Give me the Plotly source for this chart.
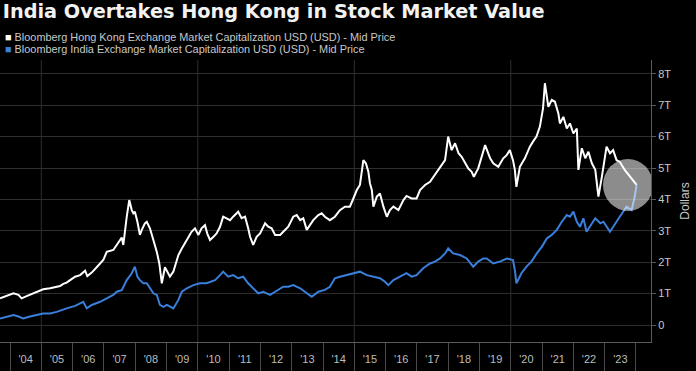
import plotly.graph_objects as go

# ---- data: x = decimal year, y = trillions of USD ----
hk_x = [2003.68,2003.89,2004.11,2004.27,2004.37,2004.53,2004.74,2004.96,2005.06,2005.28,2005.44,2005.60,2005.70,2005.81,
 2005.92,2006.08,2006.24,2006.34,2006.40,2006.47,2006.61,2006.77,2006.88,2006.98,2007.09,2007.19,2007.30,2007.41,
 2007.51,2007.57,2007.62,2007.67,2007.73,2007.81,2007.89,2007.94,2007.99,2008.07,2008.15,2008.21,2008.31,2008.37,
 2008.47,2008.58,2008.69,2008.77,2008.85,2008.95,2009.06,2009.11,2009.22,2009.27,2009.38,2009.49,2009.65,2009.80,
 2009.91,2010.02,2010.12,2010.23,2010.30,2010.39,2010.50,2010.60,2010.71,2010.81,2010.92,2011.03,2011.13,2011.29,
 2011.40,2011.51,2011.61,2011.67,2011.77,2011.88,2011.99,2012.15,2012.25,2012.36,2012.47,2012.63,2012.73,2012.89,
 2013.05,2013.16,2013.27,2013.37,2013.48,2013.58,2013.69,2013.85,2013.96,2014.06,2014.22,2014.38,2014.54,2014.70,
 2014.86,2014.97,2015.08,2015.18,2015.29,2015.37,2015.45,2015.50,2015.56,2015.61,2015.72,2015.82,2015.93,2016.04,
 2016.14,2016.25,2016.41,2016.57,2016.67,2016.83,2016.99,2017.10,2017.26,2017.42,2017.58,2017.74,2017.90,2018.00,
 2018.11,2018.22,2018.33,2018.43,2018.54,2018.64,2018.75,2018.82,2018.96,2019.07,2019.18,2019.34,2019.44,2019.60,
 2019.76,2019.87,2019.97,2020.07,2020.13,2020.18,2020.29,2020.45,2020.61,2020.71,2020.82,2020.93,2021.03,2021.09,
 2021.20,2021.31,2021.41,2021.52,2021.57,2021.68,2021.79,2021.89,2022.00,2022.11,2022.16,2022.27,2022.38,2022.48,
 2022.59,2022.70,2022.80,2022.91,2023.01,2023.06,2023.17,2023.27,2023.38,2023.48,2023.64,2023.81,2023.91,2024.02]
hk_y = [0.85,0.92,1.01,0.96,0.85,0.92,1.01,1.09,1.14,1.17,1.20,1.24,1.31,1.35,
 1.43,1.54,1.59,1.67,1.73,1.56,1.67,1.84,1.96,2.07,2.33,2.37,2.39,2.55,
 2.71,2.79,2.55,3.03,3.45,3.98,3.66,3.56,3.61,3.29,2.87,3.03,3.24,3.29,
 3.08,2.71,2.33,1.96,1.33,1.84,1.65,1.54,1.70,1.86,2.23,2.44,2.71,2.97,
 3.08,2.87,3.08,3.18,2.92,2.71,2.81,2.92,3.13,3.45,3.40,3.34,3.45,3.61,
 3.40,3.45,3.08,2.81,2.55,2.81,2.92,3.24,3.13,3.08,2.87,2.87,2.97,3.13,
 3.45,3.50,3.34,3.40,3.03,3.18,3.34,3.50,3.56,3.45,3.34,3.45,3.66,3.77,
 3.77,4.03,4.30,4.46,5.25,5.15,4.88,4.51,4.30,3.77,4.09,4.19,3.77,3.45,
 3.66,3.77,3.66,3.98,4.11,4.03,4.03,4.30,4.46,4.56,4.78,4.99,5.25,6.00,
 5.57,5.79,5.47,5.36,5.15,4.99,4.88,4.72,4.99,5.36,5.73,5.31,5.15,5.04,
 5.31,5.41,5.57,5.25,4.94,4.40,5.04,5.31,5.68,5.84,6.00,6.32,6.90,7.70,
 6.95,7.17,7.11,6.74,6.42,6.63,6.26,6.42,6.10,6.26,4.94,5.63,5.31,5.52,
 5.15,4.94,4.09,4.72,5.36,5.68,5.47,5.57,5.25,5.20,4.94,4.72,4.62,4.46]

in_x = [2003.68,2003.89,2004.11,2004.27,2004.42,2004.64,2004.85,2005.06,2005.28,2005.49,2005.81,2006.08,2006.34,2006.45,
 2006.61,2006.88,2007.09,2007.30,2007.41,2007.57,2007.73,2007.89,2007.99,2008.07,2008.15,2008.26,2008.37,2008.47,
 2008.58,2008.69,2008.79,2008.90,2009.01,2009.22,2009.38,2009.49,2009.65,2009.86,2010.07,2010.28,2010.39,2010.55,
 2010.71,2010.81,2010.97,2011.13,2011.29,2011.45,2011.61,2011.77,2011.93,2012.09,2012.31,2012.47,2012.73,2012.89,
 2013.05,2013.27,2013.48,2013.64,2013.85,2014.06,2014.22,2014.38,2014.54,2014.76,2014.97,2015.18,2015.40,2015.61,
 2015.82,2015.98,2016.09,2016.25,2016.46,2016.67,2016.83,2016.99,2017.20,2017.42,2017.58,2017.74,2017.90,2018.00,
 2018.16,2018.38,2018.59,2018.80,2018.96,2019.12,2019.23,2019.44,2019.65,2019.87,2020.07,2020.13,2020.18,2020.34,
 2020.50,2020.66,2020.83,2020.99,2021.15,2021.31,2021.47,2021.63,2021.79,2021.89,2022.00,2022.11,2022.21,2022.32,
 2022.42,2022.59,2022.70,2022.86,2022.96,2023.17,2023.33,2023.48,2023.70,2023.86,2023.96,2024.02]
in_y = [0.21,0.27,0.32,0.27,0.21,0.27,0.32,0.37,0.37,0.42,0.53,0.61,0.74,0.53,
 0.64,0.74,0.85,0.96,1.06,1.11,1.43,1.65,1.86,1.54,1.43,1.33,1.33,1.17,
 1.01,0.96,0.64,0.58,0.64,0.53,0.80,1.06,1.17,1.27,1.33,1.33,1.38,1.43,
 1.59,1.70,1.54,1.59,1.49,1.54,1.33,1.17,1.01,1.06,0.96,1.06,1.22,1.22,
 1.27,1.17,1.01,0.90,1.06,1.12,1.22,1.49,1.54,1.59,1.65,1.70,1.59,1.54,
 1.49,1.38,1.27,1.43,1.54,1.65,1.54,1.59,1.81,1.96,2.02,2.12,2.28,2.44,
 2.28,2.23,2.12,1.86,2.02,2.12,2.12,1.96,2.02,2.12,2.07,1.75,1.33,1.65,
 1.86,2.02,2.28,2.49,2.76,2.87,3.03,3.29,3.50,3.45,3.61,3.29,3.13,3.40,
 2.97,3.24,3.40,3.24,3.29,2.97,3.24,3.45,3.77,3.66,4.09,4.46]

y_tickvals = [0, 1, 2, 3, 4, 5, 6, 7, 8]
y_ticktext = ["0", "1T", "2T", "3T", "4T", "5T", "6T", "7T", "8T"]
years = list(range(2004, 2024))
x_tickvals = [y + 0.5 for y in years]
x_ticktext = [f"'{str(y)[2:]}" for y in years]
grid_years = [2005, 2010, 2015, 2020]

HK_COLOR = "#ffffff"
IN_COLOR = "#3a7fdc"

fig = go.Figure()
fig.add_trace(go.Scatter(x=hk_x, y=hk_y, mode="lines",
                         line=dict(color=HK_COLOR, width=2), showlegend=False))
fig.add_trace(go.Scatter(x=in_x, y=in_y, mode="lines",
                         line=dict(color=IN_COLOR, width=2), showlegend=False))

for g in grid_years:
    fig.add_vline(x=g, line=dict(color="#2e2e2e", width=1), layer="below")

# highlight circle around the crossover
fig.add_shape(type="circle", xref="x", yref="y", xsizemode="pixel", ysizemode="pixel",
              xanchor=2023.745, yanchor=4.46, x0=-25, x1=25, y0=-26, y1=26,
              fillcolor="rgba(255,255,255,0.55)", line=dict(width=0), layer="above")

# legend rows as annotations
fig.add_annotation(xref="paper", yref="paper", x=0.004, y=1.0816, xanchor="left", yanchor="middle",
                   showarrow=False,
                   text="<span style='color:#ffffff'>■</span> Bloomberg Hong Kong Exchange Market Capitalization USD (USD) - Mid Price",
                   font=dict(family="Liberation Sans", size=10.9, color="#c8c8c8"))
fig.add_annotation(xref="paper", yref="paper", x=0.004, y=1.039, xanchor="left", yanchor="middle",
                   showarrow=False,
                   text=f"<span style='color:{IN_COLOR}'>■</span> Bloomberg India Exchange Market Capitalization USD (USD) - Mid Price",
                   font=dict(family="Liberation Sans", size=10.9, color="#c8c8c8"))

fig.update_layout(
    width=696, height=371,
    margin=dict(l=0, r=45, t=60, b=29),
    paper_bgcolor="#000000", plot_bgcolor="#000000",
    title=dict(text="<b>India Overtakes Hong Kong in Stock Market Value</b>",
               x=0.004, xanchor="left", y=0.969, yanchor="middle",
               font=dict(family="DejaVu Sans", size=19.3, color="#f2f2f2")),
    xaxis=dict(range=[2003.68, 2024.48],
               tickvals=x_tickvals, ticktext=x_ticktext, ticks="",
               ticklabelstandoff=7,
               tickfont=dict(family="Liberation Sans", size=11, color="#bdbdbd"),
               showgrid=False, zeroline=False,
               showline=True, linecolor="#5a5a5a", linewidth=1,
               minor=dict(tick0=2004, dtick=1, ticks="outside", ticklen=29,
                          tickcolor="#4a4a4a", tickwidth=1, showgrid=False)),
    yaxis=dict(side="right", range=[-0.54, 8.44],
               tickvals=y_tickvals, ticktext=y_ticktext,
               ticks="outside", ticklen=4, tickcolor="#5a5a5a",
               tickfont=dict(family="Liberation Sans", size=11, color="#c8c8c8"),
               showgrid=True, gridcolor="#2e2e2e", gridwidth=1, zeroline=False,
               showline=True, linecolor="#5a5a5a", linewidth=1,
               title=dict(text="Dollars", standoff=10,
                          font=dict(family="Liberation Sans", size=12, color="#c8c8c8"))),
)

fig.write_html("out.html", config={"displayModeBar": False},
               post_script="document.body.style.margin='0px';")
